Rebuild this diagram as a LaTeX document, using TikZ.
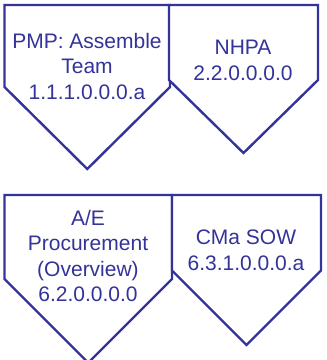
\documentclass[tikz,border=0pt]{standalone}
\usepackage{fontspec}
\setmainfont{Liberation Sans}
\usetikzlibrary{calc,positioning}
\definecolor{wbsblue}{RGB}{51,51,153}
\tikzset{
  wbsshape/.style={draw=wbsblue,line width=2.4pt,fill=white},
  wbslabel/.style={text=wbsblue,align=center,inner sep=0pt,anchor=base,font=\fontsize{21}{25.5}\selectfont}
}

\begin{document}
\begin{tikzpicture}[x=1pt,y=-1pt]
\useasboundingbox (0,0) rectangle (327,360);
% top row
\draw[wbsshape] (4.5,5) -- (170,5) -- (170,87) -- (87.25,169) -- (4.5,87) -- cycle;
\draw[wbsshape] (169,5) -- (318,5) -- (318,80) -- (243.5,153) -- (169,80) -- cycle;
\node[wbslabel] (pmp) at (87,99) {PMP: Assemble\\Team\\1.1.1.0.0.0.a};
\node[wbslabel] (nhpa) at (243,80) {NHPA\\2.2.0.0.0.0};
% bottom row
\draw[wbsshape] (4.5,195) -- (172,195) -- (172,279) -- (88.25,362.75) -- (4.5,279) -- cycle;
\draw[wbsshape] (172,195) -- (321,195) -- (321,270.5) -- (246.5,345) -- (172,270.5) -- cycle;
\node[wbslabel] (aep) at (88,301.7) {A/E\\Procurement\\(Overview)\\6.2.0.0.0.0};
\node[wbslabel] (cma) at (246,270) {CMa SOW\\6.3.1.0.0.0.a};
\end{tikzpicture}
\end{document}
